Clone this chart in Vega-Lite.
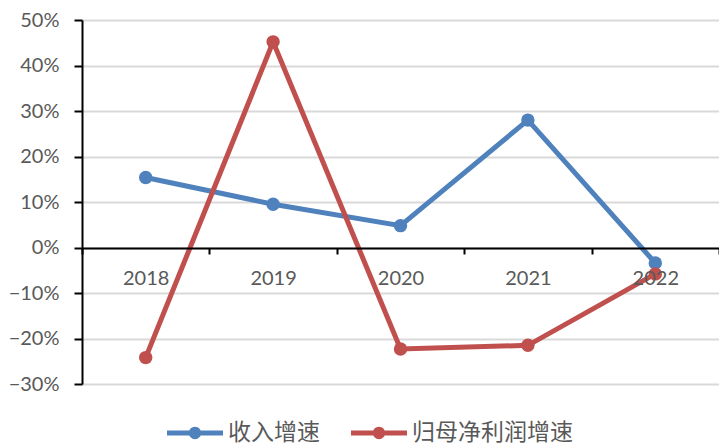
{
  "$schema": "https://vega.github.io/schema/vega-lite/v6.json",
  "width": 637,
  "height": 364,
  "autosize": {"type": "none"},
  "padding": {"left": 82, "top": 20, "right": 0, "bottom": 62},
  "background": "white",
  "config": {"view": {"stroke": null}, "font": "Lato"},
  "data": {
    "values": [
      {"year": "2018", "series": "收入增速", "value": 0.154},
      {"year": "2019", "series": "收入增速", "value": 0.095},
      {"year": "2020", "series": "收入增速", "value": 0.048},
      {"year": "2021", "series": "收入增速", "value": 0.280},
      {"year": "2022", "series": "收入增速", "value": -0.034},
      {"year": "2018", "series": "归母净利润增速", "value": -0.242},
      {"year": "2019", "series": "归母净利润增速", "value": 0.452},
      {"year": "2020", "series": "归母净利润增速", "value": -0.223},
      {"year": "2021", "series": "归母净利润增速", "value": -0.215},
      {"year": "2022", "series": "归母净利润增速", "value": -0.058}
    ]
  },
  "encoding": {
    "x": {
      "field": "year", "type": "nominal", "bandPosition": 0.5,
      "scale": {"type": "band", "paddingInner": 0, "paddingOuter": 0},
      "axis": {
        "title": null, "labelAngle": 0, "offset": -136,
        "domainColor": "black", "domainWidth": 2,
        "tickColor": "black", "tickWidth": 2, "tickSize": 6, "tickBand": "extent",
        "labelFont": "Lato", "labelFontSize": 20, "labelColor": "#595959", "labelPadding": 14,
        "grid": false, "zindex": 1
      }
    },
    "y": {
      "field": "value", "type": "quantitative",
      "scale": {"domain": [-0.3, 0.5], "nice": false, "zero": false},
      "axis": {
        "title": null, "format": ".0%", "values": [-0.3, -0.2, -0.1, 0, 0.1, 0.2, 0.3, 0.4, 0.5],
        "domainColor": "black", "domainWidth": 2,
        "tickColor": "black", "tickWidth": 2, "tickSize": 8,
        "labelFont": "Lato", "labelFontSize": 20, "labelColor": "#595959", "labelPadding": 15,
        "gridColor": "#d9d9d9", "gridWidth": 2
      }
    },
    "color": {
      "field": "series", "type": "nominal",
      "scale": {"domain": ["收入增速", "归母净利润增速"], "range": ["#4f81bd", "#c0504d"]},
      "legend": {
        "title": null, "orient": "none", "legendX": 85, "legendY": 385,
        "direction": "horizontal",
        "symbolType": "M-1,-0.09H1V0.09H-1Z M0.22,0A0.22,0.22,0,1,1,-0.22,0A0.22,0.22,0,1,1,0.22,0Z",
        "symbolSize": 3136, "symbolStrokeWidth": 0, "symbolOpacity": 1,
        "labelFont": "Noto Sans CJK SC", "labelFontSize": 23, "labelColor": "#595959",
        "labelOffset": 5, "columnPadding": 31, "labelLimit": 300,
        "encode": {
          "symbols": {
            "update": {
              "shape": {"value": "M-1,-0.09H1V0.09H-1Z M0.22,0A0.22,0.22,0,1,1,-0.22,0A0.22,0.22,0,1,1,0.22,0Z"},
              "size": {"value": 3136},
              "fill": {"scale": "color", "field": "value"},
              "strokeWidth": {"value": 0},
              "opacity": {"value": 1}
            }
          }
        }
      }
    }
  },
  "layer": [
    {"mark": {"type": "line", "strokeWidth": 5}},
    {"mark": {"type": "point", "filled": true, "size": 180, "opacity": 1}}
  ]
}
